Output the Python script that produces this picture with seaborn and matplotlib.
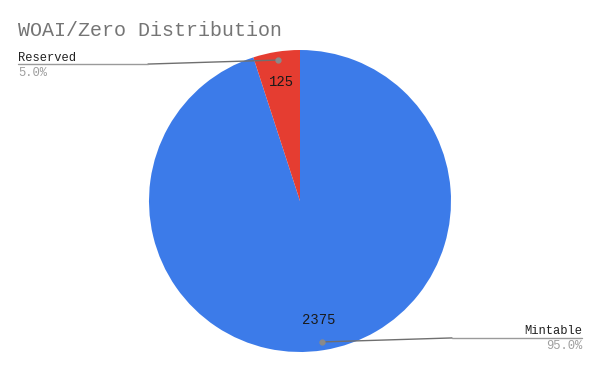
import numpy as np
import matplotlib
matplotlib.use("Agg")
import matplotlib.pyplot as plt
import seaborn as sns

labels = ["Mintable", "Reserved"]
values = [2375, 125]
colors = ["#3c7be9", "#e53d31"]
title = "WOAI/Zero Distribution"

sns.set_theme(style="white")
plt.rcParams['font.family'] = ['Liberation Mono', 'DejaVu Sans Mono']

W, H = 600, 371
fig = plt.figure(figsize=(W / 100, H / 100), dpi=100)
ax = fig.add_axes([0, 0, 1, 1])

cx, cy, R = 300, H - 201, 151
total = sum(values)
wedges, _, autotexts = ax.pie(values, colors=colors, startangle=90, counterclock=False,
                              center=(cx, cy), radius=R, frame=True,
                              autopct=lambda p: f"{p * total / 100:.0f}", pctdistance=0.8,
                              wedgeprops=dict(linewidth=0),
                              textprops=dict(fontsize=10, color="#1a1a1a"))
ax.set_xlim(0, W)
ax.set_ylim(0, H)
ax.set_aspect('equal')
ax.axis('off')

fig.text(18 / W, 1 - 30 / H, title, fontsize=14.4, color="#757575", va='center', ha='left')

# leader lines and outside labels
for i, (w, lab, v) in enumerate(zip(wedges, labels, values)):
    ang = np.deg2rad((w.theta1 + w.theta2) / 2)
    dx, dy = cx + 0.945 * R * np.cos(ang), cy + 0.945 * R * np.sin(ang)
    pct = f"{100 * v / total:.1f}%"
    if np.cos(ang) < 0:
        ly = dy - 4
        xs = [dx, 148, 18]
        ha, tx = 'left', 18
    else:
        ly = dy + 4
        xs = [dx, 452, 582]
        ha, tx = 'right', 582
    ax.plot(xs[:2], [dy, ly], color="#6f6f6f", lw=1)
    ax.plot(xs[1:], [ly, ly], color="#9a9a9a", lw=1)
    ax.plot([dx], [dy], 'o', color="#8a8a8a", ms=3.5)
    ax.text(tx, ly + 6.5, lab, fontsize=8.7, color="#222222", ha=ha, va='center')
    ax.text(tx, ly - 8.5, pct, fontsize=8.7, color="#9e9e9e", ha=ha, va='center')

fig.savefig("out.png", dpi=100, facecolor="white")
